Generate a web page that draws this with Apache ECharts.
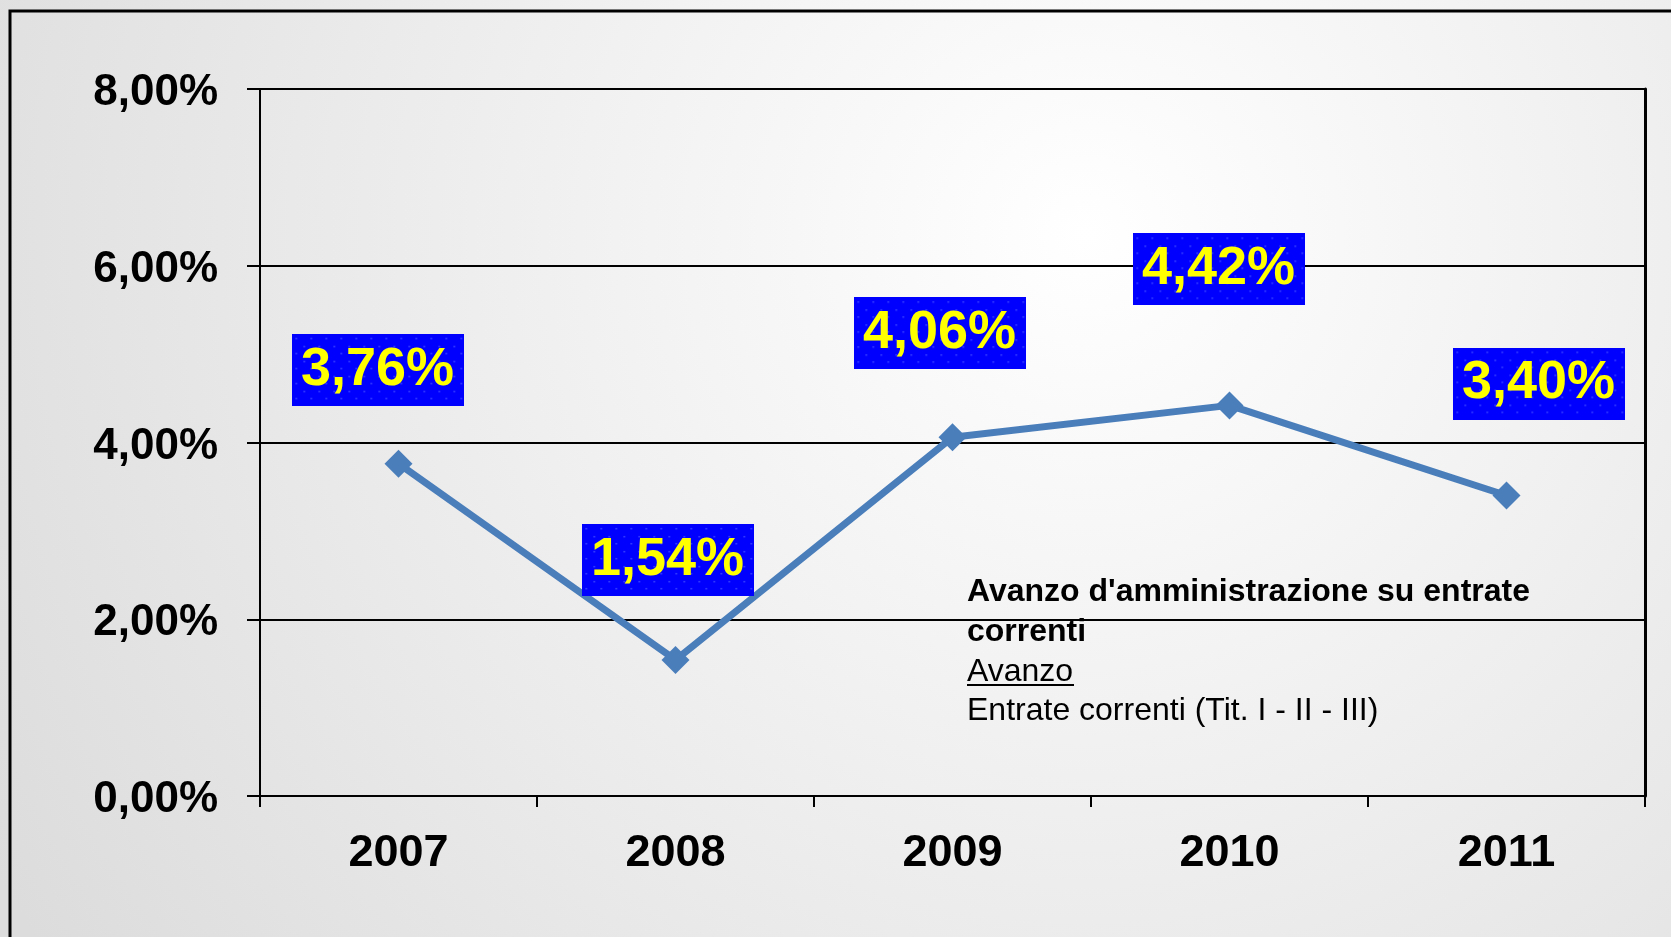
<!DOCTYPE html>
<html>
<head>
<meta charset="utf-8">
<script src="https://cdn.jsdelivr.net/npm/echarts@6/dist/echarts.min.js"></script>
<style>
  html, body { margin: 0; padding: 0; }
  #chart { width: 1671px; height: 937px; }
</style>
</head>
<body>
<div id="chart"></div>
<script>
var years = ["2007", "2008", "2009", "2010", "2011"];
var avanzo = [3.76, 1.54, 4.06, 4.42, 3.40];
var yTicks = [0, 2, 4, 6, 8];
// where each value box sits relative to its point (picked by hand in the original)
var labelOffsets = [[-21, -94], [-8, -100], [-13, -104], [-11, -136], [32, -112]];

var font = "'Liberation Sans', Arial, sans-serif";

function pct(v) {
  return v.toFixed(2).replace(".", ",") + "%";
}

// blue box with faint dot pattern
var boxCanvas = document.createElement("canvas");
boxCanvas.width = 172;
boxCanvas.height = 72;
(function () {
  var ctx = boxCanvas.getContext("2d");
  ctx.fillStyle = "#0000ff";
  ctx.fillRect(0, 0, 172, 72);
  ctx.fillStyle = "rgba(120,140,255,0.55)";
  var row = 0;
  for (var y = 4; y < 72; y += 7.5) {
    var shift = row % 2 ? 7.5 : 0;
    for (var x = 4 + shift; x < 172; x += 15) {
      ctx.fillRect(Math.round(x), Math.round(y), 1.5, 1.5);
    }
    row++;
  }
})();

var myChart = echarts.init(document.getElementById("chart"));

var option = {
  backgroundColor: new echarts.graphic.RadialGradient(0.65, 0.25, 1.35, [
    { offset: 0, color: "#ffffff" },
    { offset: 1, color: "#dcdcdc" }
  ]),
  animation: false,
  grid: { left: 260, top: 89, right: 26, bottom: 141 },
  xAxis: {
    type: "category",
    data: years,
    boundaryGap: true,
    axisLine: { lineStyle: { color: "#000", width: 2 } },
    axisTick: { show: true, inside: false, length: 11, interval: 0, lineStyle: { color: "#000", width: 2 } },
    axisLabel: { color: "#000", fontSize: 45, fontWeight: "bold", fontFamily: font, margin: 35, interval: 0 },
    splitLine: { show: false }
  },
  yAxis: [
    {
      type: "value",
      min: yTicks[0],
      max: yTicks[yTicks.length - 1],
      interval: 2,
      axisLine: { show: true, lineStyle: { color: "#000", width: 2 } },
      axisTick: { show: true, inside: false, length: 13, lineStyle: { color: "#000", width: 2 } },
      axisLabel: {
        margin: 42,
        formatter: function (v) { return "{t|" + pct(v) + "}"; },
        rich: {
          t: { color: "#000", fontSize: 44, fontWeight: "bold", fontFamily: font, padding: [8, 0, 0, 0] }
        }
      },
      splitLine: { show: true, lineStyle: { color: "#000", width: 2 } }
    },
    {
      type: "value",
      position: "right",
      min: yTicks[0],
      max: yTicks[yTicks.length - 1],
      interval: 2,
      axisLine: { show: true, lineStyle: { color: "#000", width: 3 } },
      axisTick: { show: false },
      axisLabel: { show: false },
      splitLine: { show: false }
    }
  ],
  series: [
    {
      type: "line",
      data: avanzo.map(function (v, i) {
        return { value: v, label: { offset: labelOffsets[i] } };
      }),
      symbol: "diamond",
      symbolSize: 28,
      lineStyle: { color: "#4A7EBB", width: 7 },
      itemStyle: { color: "#4A7EBB" },
      label: {
        show: true,
        position: "inside",
        formatter: function (p) { return pct(p.value); },
        color: "#ffff00",
        fontSize: 54,
        fontWeight: "bold",
        fontFamily: font,
        width: 172,
        height: 72,
        lineHeight: 72,
        padding: 0,
        align: "center",
        verticalAlign: "middle",
        backgroundColor: { image: boxCanvas }
      },
      z: 3
    }
  ],
  graphic: [
    {
      type: "rect",
      shape: { x: 10, y: 11, width: 2000, height: 2000 },
      style: { fill: null, stroke: "#000", lineWidth: 3 },
      silent: true
    },
    {
      type: "text", left: 967, top: 576,
      style: { text: "Avanzo d'amministrazione su entrate", font: "bold 32px " + font, fill: "#000" }
    },
    {
      type: "text", left: 967, top: 616,
      style: { text: "correnti", font: "bold 32px " + font, fill: "#000" }
    },
    {
      type: "text", left: 967, top: 656,
      style: { text: "Avanzo", font: "32px " + font, fill: "#000" }
    },
    {
      type: "line",
      shape: { x1: 967, y1: 685, x2: 1074, y2: 685 },
      style: { stroke: "#000", lineWidth: 2 }
    },
    {
      type: "text", left: 967, top: 695,
      style: { text: "Entrate correnti (Tit. I - II - III)", font: "32px " + font, fill: "#000" }
    }
  ]
};

myChart.setOption(option);
</script>
</body>
</html>
